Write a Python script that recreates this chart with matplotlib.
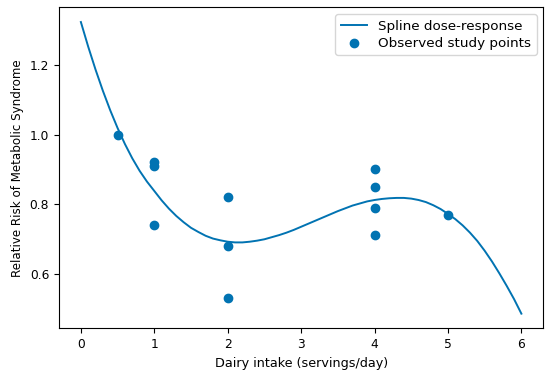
import matplotlib

matplotlib.use("Agg")
import matplotlib.pyplot as plt

# spline curve values, every 0.1 serving
curve_x = [i / 10 for i in range(61)]
curve_rr = [
    1.324, 1.253, 1.187, 1.126, 1.070, 1.019, 0.973, 0.932, 0.896, 0.865,
    0.838, 0.811, 0.787, 0.766, 0.748, 0.732, 0.720, 0.709, 0.701, 0.696,
    0.692, 0.690, 0.690, 0.692, 0.695, 0.699, 0.705, 0.711, 0.718, 0.726,
    0.735, 0.744, 0.753, 0.762, 0.771, 0.780, 0.788, 0.796, 0.802, 0.808,
    0.812, 0.815, 0.817, 0.818, 0.818, 0.816, 0.812, 0.806, 0.797, 0.786,
    0.772, 0.757, 0.739, 0.718, 0.694, 0.666, 0.635, 0.601, 0.565, 0.527,
    0.485,
]

# observed study points
obs_x = [0.5, 1, 1, 1, 2, 2, 2, 4, 4, 4, 4, 5]
obs_rr = [1.00, 0.92, 0.91, 0.74, 0.82, 0.68, 0.53, 0.90, 0.85, 0.79, 0.71, 0.77]

blue = "#0173b2"

plt.rcParams["font.size"] = 8.8

fig, ax = plt.subplots(figsize=(5.5, 3.73), dpi=100)
fig.subplots_adjust(left=0.107, right=0.988, top=0.980, bottom=0.120)

ax.plot(curve_x, curve_rr, color=blue, linewidth=1.4, label="Spline dose-response")
ax.scatter(obs_x, obs_rr, color=blue, s=36, label="Observed study points", zorder=3)

ax.set_xlabel("Dairy intake (servings/day)", fontsize=9.2)
ax.set_ylabel("Relative Risk of Metabolic Syndrome", fontsize=8.6)
ax.set_yticks([0.6, 0.8, 1.0, 1.2])
ax.legend(loc="upper right", fontsize=9.7, labelspacing=0.3)

fig.savefig("out.png", dpi=100)
plt.close(fig)
